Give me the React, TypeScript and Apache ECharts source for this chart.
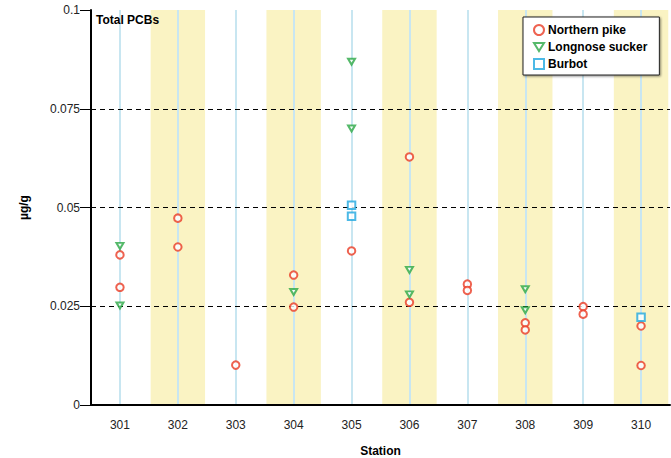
import React, { useEffect, useRef } from "react";
import * as echarts from "echarts";

const stations = ["301", "302", "303", "304", "305", "306", "307", "308", "309", "310"];
const shadedStations = ["302", "304", "306", "308", "310"];
const yTicks = [0.025, 0.05, 0.075];

const northernPike: [string, number][] = [
  ["301", 0.038], ["301", 0.0298],
  ["302", 0.0473], ["302", 0.040],
  ["303", 0.0101],
  ["304", 0.0329], ["304", 0.0248],
  ["305", 0.039],
  ["306", 0.0628], ["306", 0.026],
  ["307", 0.0306], ["307", 0.029],
  ["308", 0.0208], ["308", 0.019],
  ["309", 0.0249], ["309", 0.023],
  ["310", 0.020], ["310", 0.010],
];
const longnoseSucker: [string, number][] = [
  ["301", 0.0403], ["301", 0.0252],
  ["304", 0.0286],
  ["305", 0.0869], ["305", 0.070],
  ["306", 0.0342], ["306", 0.028],
  ["308", 0.0293], ["308", 0.024],
];
const burbot: [string, number][] = [
  ["305", 0.0506], ["305", 0.0478],
  ["310", 0.0222],
];

const RED = "#ea3b24";
const GREEN = "#2aa845";
const BLUE = "#1fa7e0";
const FONT = "Liberation Sans, Arial, sans-serif";

const pos = (s: string) => stations.indexOf(s) + 1;
const toData = (arr: [string, number][]) => arr.map(([s, v]) => [pos(s), v]);

export default function App() {
  const ref = useRef<HTMLDivElement>(null);
  useEffect(() => {
    document.body.style.margin = "0";
    if (!ref.current) return;
    const chart = echarts.init(ref.current, undefined, { renderer: "svg" });
    const hollow = (c: string, w = 2) => ({ color: "#fff", borderColor: c, borderWidth: w });
    chart.setOption({
      animation: false,
      textStyle: { fontFamily: FONT },
      grid: { left: 91, right: 1, top: 10, bottom: 53, containLabel: false, outerBoundsMode: "none" },
      title: {
        text: "Total PCBs",
        left: 96,
        top: 14,
        padding: 0,
        textStyle: { fontSize: 12, fontWeight: "bold", color: "#000", fontFamily: FONT },
      },
      legend: {
        data: ["Northern pike", "Longnose sucker", "Burbot"],
        orient: "vertical",
        left: 523,
        top: 17,
        padding: [7, 12, 5, 10],
        itemGap: 5,
        itemWidth: 10,
        itemHeight: 10,
        backgroundColor: "#fff",
        borderColor: "#222",
        borderWidth: 1,
        shadowColor: "rgba(0,0,0,0.45)",
        shadowBlur: 2,
        shadowOffsetX: 1,
        shadowOffsetY: 1,
        z: 20,
        textStyle: { fontSize: 12, fontWeight: "bold", color: "#000", fontFamily: FONT, padding: [0, 0, 0, -1] },
      },
      xAxis: [
        {
          type: "category",
          data: stations,
          boundaryGap: true,
          z: 10,
          axisLine: { lineStyle: { color: "#000", width: 2 } },
          axisTick: { alignWithLabel: true, length: 9, lineStyle: { color: "#000", width: 1 } },
          axisLabel: { fontSize: 12, color: "#222", margin: 14, fontFamily: FONT },
          splitLine: { show: false },
          name: "Station",
          nameLocation: "middle",
          nameGap: 40,
          nameTextStyle: { fontSize: 12, fontWeight: "bold", color: "#000", fontFamily: FONT },
        },
        { type: "value", min: 0.5, max: 10.5, show: false },
      ],
      yAxis: {
        type: "value",
        min: 0,
        max: 0.1,
        interval: 0.025,
        z: 10,
        axisLine: { show: true, lineStyle: { color: "#000", width: 2 } },
        axisTick: { show: true, length: 11, lineStyle: { color: "#000", width: 1 } },
        axisLabel: { fontSize: 12, color: "#222", margin: 11, fontFamily: FONT },
        splitLine: { show: false },
        name: "µg/g",
        nameLocation: "middle",
        nameGap: 61,
        nameTextStyle: { fontSize: 12, fontWeight: "bold", color: "#000", fontFamily: FONT },
      },
      series: [
        {
          type: "scatter",
          xAxisIndex: 1,
          data: [],
          z: 1,
          silent: true,
          markArea: {
            silent: true,
            itemStyle: { color: "#faf3c3" },
            data: shadedStations.map((s) => [{ xAxis: pos(s) - 0.47 }, { xAxis: pos(s) + 0.47 }]),
          },
        },
        {
          type: "scatter",
          xAxisIndex: 1,
          data: [],
          z: 2,
          silent: true,
          markLine: {
            silent: true,
            precision: 4,
            symbol: ["none", "none"],
            label: { show: false },
            lineStyle: { color: "#c8e6f1", width: 2, type: "solid" },
            data: stations.map((s) => ({ xAxis: pos(s) })),
          },
        },
        {
          type: "scatter",
          xAxisIndex: 1,
          data: [],
          z: 2,
          silent: true,
          markLine: {
            silent: true,
            precision: 4,
            symbol: ["none", "none"],
            label: { show: false },
            lineStyle: { color: "#000", width: 1, type: [5, 4] },
            data: yTicks.map((v) => ({ yAxis: v })),
          },
        },
        {
          name: "Northern pike",
          type: "scatter",
          xAxisIndex: 1,
          z: 5,
          symbol: "circle",
          symbolSize: 7.5,
          itemStyle: hollow(RED, 2),
          data: toData(northernPike),
        },
        {
          name: "Longnose sucker",
          type: "scatter",
          xAxisIndex: 1,
          z: 5,
          symbol: "path://M0,0 L10,0 L5,8 Z",
          symbolSize: [7, 6],
          itemStyle: hollow(GREEN, 2),
          data: toData(longnoseSucker),
        },
        {
          name: "Burbot",
          type: "scatter",
          xAxisIndex: 1,
          z: 5,
          symbol: "rect",
          symbolSize: 7.5,
          itemStyle: hollow(BLUE, 2),
          data: toData(burbot),
        },
      ],
    });
    return () => chart.dispose();
  }, []);
  return <div ref={ref} style={{ width: 671, height: 458 }} />;
}
